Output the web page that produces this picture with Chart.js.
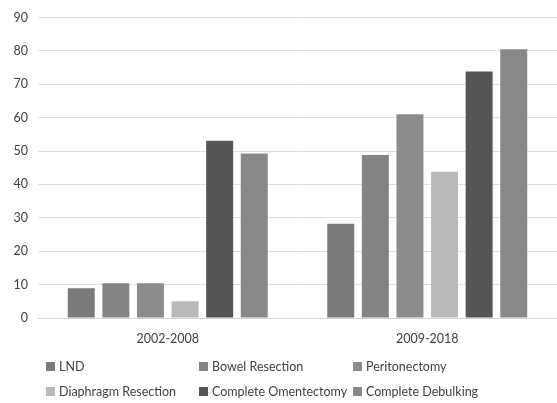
<!DOCTYPE html>
<html>
<head>
<meta charset="utf-8">
<script src="https://cdn.jsdelivr.net/npm/chart.js@4"></script>
<style>
  html, body { margin: 0; padding: 0; background: #fff; }
  #wrap { position: relative; width: 557px; height: 403px; }
  #plot { position: absolute; left: 0; top: 0; width: 557px; height: 363px; }
  #legend { position: absolute; left: 0; top: 359px; width: 557px; font-family: Lato, "Liberation Sans", sans-serif; font-size: 12.5px; color: #3f3f3f; }
  .item { position: absolute; display: flex; align-items: center; white-space: nowrap; }
  .sw { width: 9px; height: 9px; margin-right: 4px; }
</style>
</head>
<body>
<div id="wrap">
  <div id="plot"><canvas id="c"></canvas></div>
  <div id="legend"></div>
</div>
<script>
// Periods compared
const periods = ["2002-2008", "2009-2018"];

// Procedure series (percent of cases)
const seriesNames = ["LND", "Bowel Resection", "Peritonectomy", "Diaphragm Resection", "Complete Omentectomy", "Complete Debulking"];
const lnd = [8.9, 28.2];
const bowelResection = [10.4, 48.8];
const peritonectomy = [10.4, 61.0];
const diaphragmResection = [5.0, 43.8];
const completeOmentectomy = [53.1, 73.8];
const completeDebulking = [49.3, 80.5];

// Y axis ticks
const yTicks = [0, 10, 20, 30, 40, 50, 60, 70, 80, 90];

const seriesValues = [lnd, bowelResection, peritonectomy, diaphragmResection, completeOmentectomy, completeDebulking];
const colors = ["#7a7a7a", "#848484", "#8c8c8c", "#b9b9b9", "#555555", "#888888"];

const datasets = seriesNames.map((name, i) => ({
  label: name,
  data: seriesValues[i],
  backgroundColor: colors[i],
  borderWidth: 0,
  barPercentage: 0.78,
  categoryPercentage: 0.8
}));

const tickFont = { family: "Lato, 'Liberation Sans', sans-serif", size: 12.5 };

new Chart(document.getElementById("c"), {
  type: "bar",
  data: { labels: periods, datasets },
  options: {
    responsive: true,
    maintainAspectRatio: false,
    animation: false,
    layout: { padding: { top: 5, right: 0, bottom: 4, left: 0 } },
    plugins: { legend: { display: false }, tooltip: { enabled: false } },
    scales: {
      x: {
        grid: { display: false, drawTicks: false },
        border: { color: "#d4d4d4", width: 1 },
        ticks: { color: "#3f3f3f", font: tickFont, padding: 13 }
      },
      y: {
        min: 0,
        max: 90,
        afterBuildTicks: (s) => { s.ticks = yTicks.map(v => ({ value: v })); },
        afterFit: (s) => { s.width = 38; },
        grid: { color: "#dedede", lineWidth: 1, drawTicks: false },
        border: { display: false },
        ticks: { color: "#3f3f3f", font: tickFont, padding: 10 }
      }
    }
  }
});

// Legend laid out in three columns, two rows
const legend = document.getElementById("legend");
const colX = [46, 199, 353];
const rowY = [0, 25];
seriesNames.forEach((name, i) => {
  const d = document.createElement("div");
  d.className = "item";
  d.style.left = colX[i % 3] + "px";
  d.style.top = rowY[Math.floor(i / 3)] + "px";
  const sw = document.createElement("span");
  sw.className = "sw";
  sw.style.background = colors[i];
  const t = document.createElement("span");
  t.textContent = name;
  d.appendChild(sw);
  d.appendChild(t);
  legend.appendChild(d);
});
</script>
</body>
</html>
